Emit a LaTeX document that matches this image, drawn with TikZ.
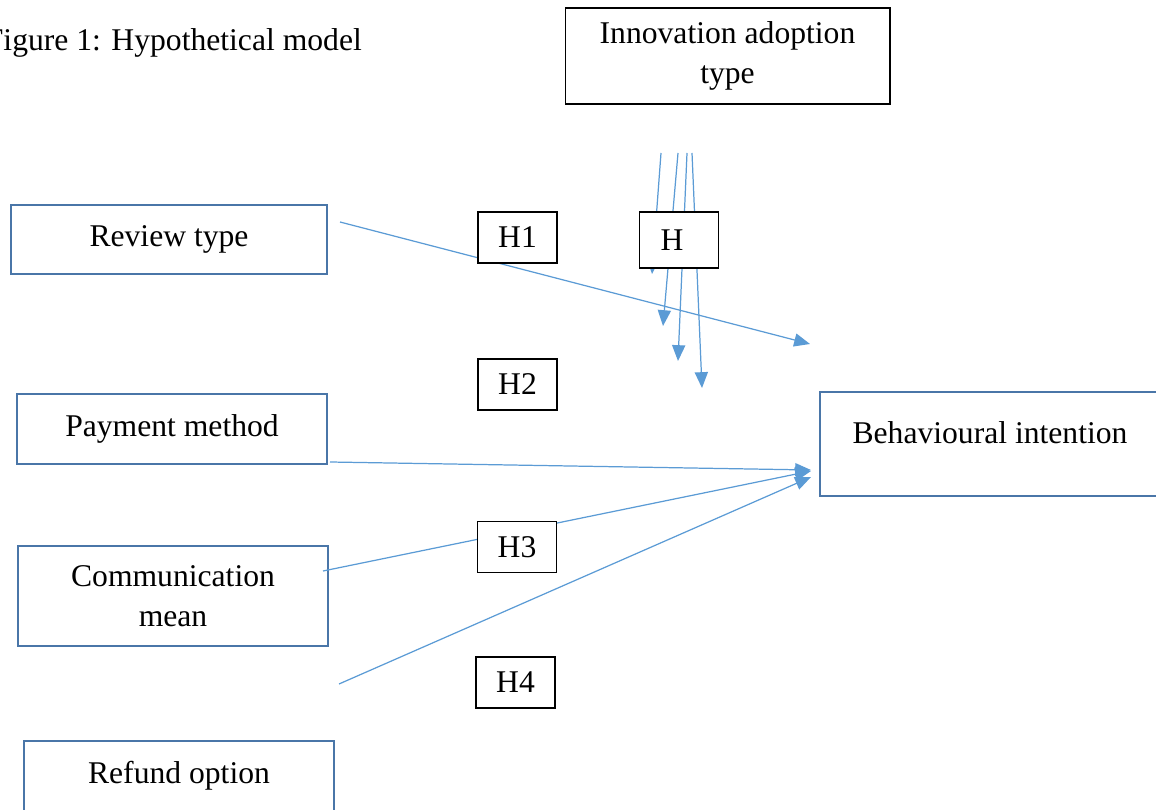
\documentclass[tikz,border=0pt]{standalone}
\usepackage{fontspec}
\setmainfont{Liberation Serif}
\usetikzlibrary{positioning, arrows.meta, calc}
\definecolor{boxblue}{HTML}{4A76A8}
\definecolor{arrowblue}{HTML}{5B9BD5}
\tikzset{
    varbox/.style={draw=boxblue, line width=1.3pt, fill=white, align=center, inner sep=0pt,
        font=\fontsize{18}{22.7}\selectfont},
    hypbox/.style={draw=black, line width=0.8pt, fill=white, inner sep=0pt,
        minimum width=1.58cm, minimum height=1.02cm, font=\fontsize{18}{21}\selectfont},
    link/.style={draw=arrowblue, line width=0.7pt, -{Triangle[length=9pt, width=7.5pt]}},
}

\begin{document}
\begin{tikzpicture}[x=0.02cm, y=-0.02cm]
    \clip (0,0) rectangle (1156,810);

    \node[anchor=east, font=\fontsize{18}{21}\selectfont] (title) at (368,43) {Figure 1: Hypothetical model};

    % constructs
    \node[varbox, draw=black, line width=0.6pt, minimum width=6.5cm, minimum height=1.92cm] (adopt) at (727.5,56) {Innovation adoption\\type};
    \node[varbox, minimum width=6.32cm, minimum height=1.38cm] (review) at (169,239.5) {Review type};
    \node[varbox, minimum width=6.2cm, minimum height=1.4cm] (payment) at (172,429) {Payment method};
    \node[varbox, minimum width=6.2cm, minimum height=2cm] (comm) at (173,596) {Communication\\mean};
    \node[varbox, minimum width=6.2cm, minimum height=1.4cm] (refund) at (179,776) {Refund option};
    \node[varbox, minimum width=6.8cm, minimum height=2.08cm, text depth=13pt] (behav) at (990,444) {Behavioural intention};

    % arrow ends
    \coordinate (rv-out) at (340,222);
    \coordinate (bi-in1) at (810,344);
    \coordinate (pm-out) at (330,462);
    \coordinate (bi-in2) at (811,470);
    \coordinate (cm-out) at (323,571);
    \coordinate (bi-in3) at (811,471);
    \coordinate (rf-out) at (339,684);
    \coordinate (bi-in4) at (811,477);

    \draw[link] (rv-out) -- (bi-in1);
    \draw[link] (pm-out) -- (bi-in2);
    \draw[link] (cm-out) -- (bi-in3);
    \draw[link] (rf-out) -- (bi-in4);

    \foreach \a/\b/\c [count=\i] in {661/652/274, 678/663/326, 687/678/361, 692/702/388}{
        \coordinate (ia\i) at (\a,153);
        \coordinate (ib\i) at (\b,\c);
        \draw[link] (ia\i) -- (ib\i);
    }

    % hypotheses
    \node[hypbox] (h1) at (517.5,237.5) {H1};
    \node[hypbox, minimum height=1.12cm] (h) at (679,240) {H\kern8pt\relax};
    \node[hypbox] (h2) at (517.5,384.5) {H2};
    \node[hypbox] (h3) at (517,547) {H3};
    \node[hypbox] (h4) at (515.5,682.5) {H4};
\end{tikzpicture}
\end{document}
